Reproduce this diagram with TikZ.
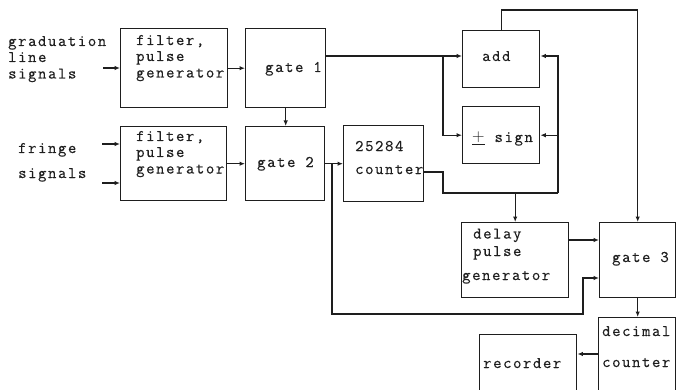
\documentclass[tikz,border=0pt]{standalone}
\usepackage{fontspec}
\setmonofont{Latin Modern Mono}[LetterSpace=10, FakeBold=0.5]
\usetikzlibrary{arrows.meta}
\definecolor{ink}{HTML}{1E1E1E}
\tikzset{
  box/.style={draw=ink, line width=1.4pt, anchor=north west, inner sep=0pt},
  lbl/.style={font=\ttfamily\fontsize{16.2}{16}\selectfont, text=ink, anchor=base west,
              inner sep=0pt, text height=9pt, text depth=2pt},
  wire/.style={draw=ink, line width=1.2pt},
  arr/.style={wire, -{Latex[length=5.5pt,width=4.5pt]}},
}
\begin{document}
\begin{tikzpicture}[x=1pt,y=-1pt]
\useasboundingbox (0,0) rectangle (676,390);
% boxes
\node[box, minimum width=107pt, minimum height=79pt] (f1) at (120,28) {};
\node[box, minimum width=80pt, minimum height=79pt] (g1) at (245,28) {};
\node[box, minimum width=106pt, minimum height=74pt] (f2) at (120,126) {};
\node[box, minimum width=79pt, minimum height=74pt] (g2) at (245,126) {};
\node[box, minimum width=80pt, minimum height=76pt] (cnt) at (343,125) {};
\node[box, minimum width=77pt, minimum height=57pt] (add) at (462,30) {};
\node[box, minimum width=77pt, minimum height=57pt] (sgn) at (462,106) {};
\node[box, minimum width=107pt, minimum height=75pt] (dly) at (461,222) {};
\node[box, minimum width=76pt, minimum height=75pt] (g3) at (599,222) {};
\node[box, minimum width=77pt, minimum height=90pt] (dec) at (598,317) {};
\node[box, minimum width=97pt, minimum height=70pt] (rec) at (479,334) {};
% texts
\node[lbl] (t1) at (8,46) {graduation};
\node[lbl] (t2) at (8,62) {line};
\node[lbl] (t3) at (8,78.5) {signals};
\node[lbl] (t4) at (18,153) {fringe};
\node[lbl] (t5) at (18,178) {signals};
\node[lbl] (f1a) at (136,45) {filter,};
\node[lbl] (f1b) at (136,61) {pulse};
\node[lbl] (f1c) at (136,77.5) {generator};
\node[lbl] (f2a) at (136,141) {filter,};
\node[lbl] (f2b) at (136,157) {pulse};
\node[lbl] (f2c) at (136,173.5) {generator};
\node[lbl] (g1t) at (265,72) {gate 1};
\node[lbl] (g2t) at (257,167) {gate 2};
\node[lbl] (ca) at (355,151) {25284};
\node[lbl] (cb) at (355,174) {counter};
\node[lbl] (at) at (482,61) {add};
\node[lbl] (st) at (472,142) {$\underline{+}$ sign};
\node[lbl] (da) at (473,238.5) {delay};
\node[lbl] (db) at (473,256) {pulse};
\node[lbl] (dc) at (462,280) {generator};
\node[lbl] (g3t) at (612,262) {gate 3};
\node[lbl] (deca) at (602,336) {decimal};
\node[lbl] (decb) at (602,367) {counter};
\node[lbl] (rt) at (483,368) {recorder};
% inputs
\coordinate (in1) at (103,68);
\coordinate (in2) at (102,144);
\coordinate (in3) at (102,183);
\draw[arr] (in1) -- (in1 -| f1.west);
\draw[arr] (in2) -- (in2 -| f2.west);
\draw[arr] (in3) -- (in3 -| f2.west);
% main chain
\draw[arr] (f1.east) -- (f1.east -| g1.west);
\draw[arr] (g1.south) -- (g1.south |- g2.north);
\draw[arr] (f2.east) -- (f2.east -| g2.west);
\draw[arr] (g2.east) -- (g2.east -| cnt.west);
\coordinate (j2) at (332,163);
\coordinate (b1) at (583,314);
\draw[arr] (j2) |- (b1) |- (g3.west |- 0,278);
% gate1 to add and sign
\coordinate (j1) at (443,56);
\draw[arr] (g1.east |- j1) -- (add.west |- j1);
\draw[arr] (j1) |- (sgn.west);
% counter feedback
\coordinate (k1) at (443,193);
\coordinate (k2) at (558,193);
\draw[wire] (cnt.east |- 0,172) -| (k1) -- (k2);
\draw[arr] (k2) |- (add.east |- j1);
\draw[arr] (k2 |- sgn.east) -- (sgn.east);
\draw[arr] (dly.north |- k1) -- (dly.north);
% add to gate 3
\draw[arr] (add.north) |- (g3.north |- 0,10) -- (g3.north);
\draw[arr] (dly.east |- 0,240) -- (g3.west |- 0,240);
\draw[arr] (g3.south) -- (g3.south |- dec.north);
\draw[arr] (dec.west |- 0,354) -- (rec.east |- 0,354);
\end{tikzpicture}
\end{document}
